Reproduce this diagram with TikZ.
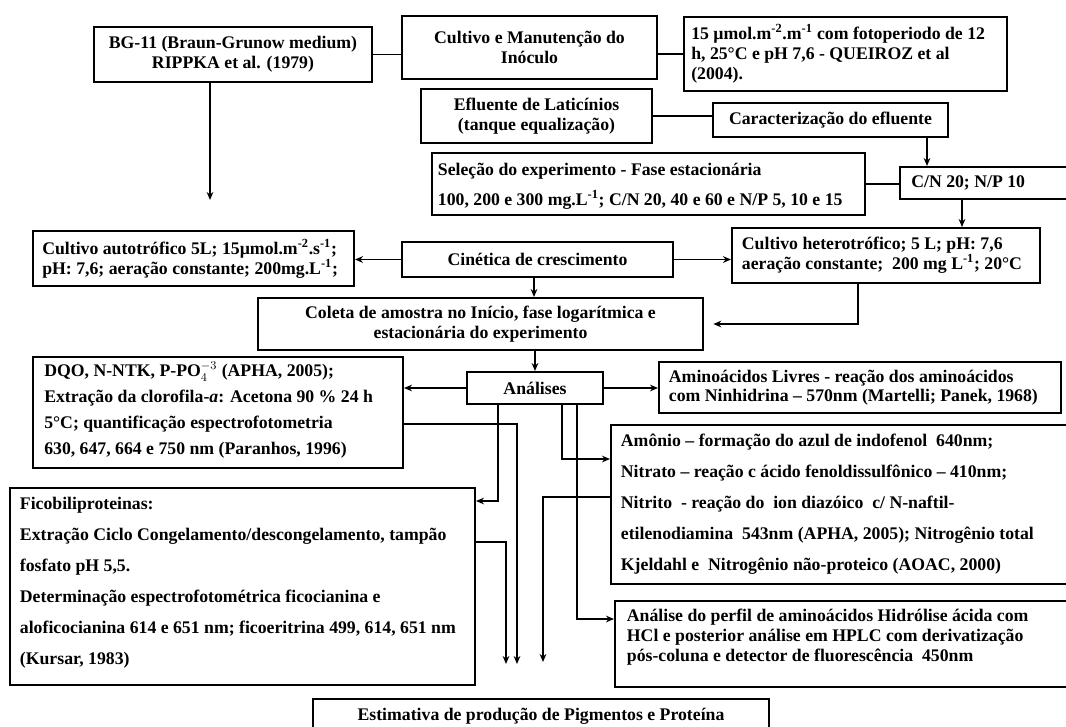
\documentclass[tikz,border=0pt]{standalone}
\usepackage{fontspec}
\setmainfont{Liberation Serif}
\usetikzlibrary{arrows.meta}
\newcommand\fs{\fontsize{13.3}{15}\selectfont\bfseries}
\newcommand\sps[1]{\textsuperscript{#1}}
\begin{document}
\begin{tikzpicture}[x=0.75pt,y=-0.75pt,
  box/.style={draw, line width=1.5pt, inner sep=0pt, align=center, font=\fs},
  txt/.style={inner sep=0pt, align=left, anchor=west, font=\fs},
  arr/.style={line width=1.3pt, -{Stealth[length=6pt,width=5pt]}},
  ln/.style={line width=1.3pt}]
\useasboundingbox (0,0) rectangle (1066,726);
\clip (0,0) rectangle (1066,726);
% top row
\node[box, minimum width=278*0.75pt, minimum height=55*0.75pt] (bg) at (233,54.5)
  {BG-11 (Braun-Grunow medium)\\RIPPKA et al. (1979)};
\node[box, minimum width=255*0.75pt, minimum height=63*0.75pt] (cult) at (529.5,47.5)
  {Cultivo e Manutenção do\\Inóculo};
\node[box, minimum width=323*0.75pt, minimum height=74*0.75pt] (mu) at (845.5,54) {};
\node[txt] (tmu) at ([xshift=6pt]mu.west)
  {15 µmol.m\sps{-2}.m\sps{-1} com fotoperiodo de 12\\h, 25°C e pH 7,6 - QUEIROZ et al\\(2004).};
\node[box, minimum width=231*0.75pt, minimum height=54*0.75pt] (eflu) at (536.5,116)
  {Efluente de Laticínios\\(tanque equalização)};
\node[box, minimum width=235*0.75pt, minimum height=34*0.75pt] (carac) at (830.5,120)
  {Caracterização do efluente};
\node[box, minimum width=433*0.75pt, minimum height=62*0.75pt] (sel) at (648.5,184) {};
\node[txt, font=\fontsize{13.3}{22.5}\selectfont\bfseries] (tsel) at ([xshift=5pt,yshift=-2pt]sel.west)
  {Seleção do experimento - Fase estacionária\\100, 200 e 300 mg.L\sps{-1}; C/N 20, 40 e 60 e N/P 5, 10 e 15};
\node[box, minimum width=175*0.75pt, minimum height=32*0.75pt] (cn) at (987.5,183) {};
\node[txt] (tcn) at ([xshift=9pt]cn.west) {C/N 20; N/P 10};
% growth
\node[box, minimum width=321*0.75pt, minimum height=55*0.75pt] (auto) at (193.5,258.5) {};
\node[txt] (tauto) at ([xshift=7.5pt]auto.west)
  {Cultivo autotrófico 5L; 15µmol.m\sps{-2}.s\sps{-1};\\pH: 7,6; aeração constante; 200mg.L\sps{-1};};
\node[box, minimum width=271*0.75pt, minimum height=35*0.75pt] (cin) at (537.5,259.5)
  {Cinética de crescimento};
\node[box, minimum width=308*0.75pt, minimum height=55*0.75pt] (het) at (886,255.5) {};
\node[txt] (thet) at ([xshift=8pt]het.west)
  {Cultivo heterotrófico; 5 L; pH: 7,6\\aeração constante;\ \ 200 mg L\sps{-1}; 20°C};
\node[box, minimum width=445*0.75pt, minimum height=52*0.75pt] (coleta) at (480.5,324)
  {Coleta de amostra no Início, fase logarítmica e\\estacionária do experimento};
% analyses
\node[box, minimum width=136*0.75pt, minimum height=32*0.75pt] (anal) at (535,388) {Análises};
\node[box, minimum width=402*0.75pt, minimum height=51*0.75pt] (amino) at (860,387.5) {};
\node[txt, font=\fontsize{13.3}{14}\selectfont\bfseries] (tamino) at ([xshift=8pt]amino.west)
  {Aminoácidos Livres - reação dos aminoácidos\\com Ninhidrina -- 570nm (Martelli; Panek, 1968)};
\node[box, minimum width=370*0.75pt, minimum height=111*0.75pt] (dqo) at (218,412.5) {};
\node[txt, font=\fontsize{13.3}{19.5}\selectfont\bfseries] (tdqo) at ([xshift=9pt,yshift=2pt]dqo.west)
  {DQO, N-NTK, P-PO$_4^{-3}$ (APHA, 2005);\\Extração da clorofila-\textit{a}: Acetona 90 \% 24 h\\5°C; quantificação espectrofotometria\\630, 647, 664 e 750 nm (Paranhos, 1996)};
\node[box, minimum width=465*0.75pt, minimum height=197*0.75pt] (fico) at (242.5,586.5) {};
\node[txt, font=\fontsize{13.3}{23.3}\selectfont\bfseries] (tfico) at ([xshift=8pt,yshift=3pt]fico.west)
  {Ficobiliproteinas:\\Extração Ciclo Congelamento/descongelamento, tampão\\fosfato pH 5,5.\\Determinação espectrofotométrica ficocianina e\\aloficocianina 614 e 651 nm; ficoeritrina 499, 614, 651 nm\\(Kursar, 1983)};
\node[box, minimum width=464*0.75pt, minimum height=159*0.75pt] (amon) at (843,504.5) {};
\node[txt, font=\fontsize{13.3}{23.3}\selectfont\bfseries] (tamon) at ([xshift=8pt]amon.west)
  {Amônio -- formação do azul de indofenol\ \ 640nm;\\Nitrato -- reação c ácido fenoldissulfônico -- 410nm;\\Nitrito\ \ - reação do\ \ ion diazóico\ \ c/ N-naftil-\\etilenodiamina\ \ 543nm (APHA, 2005); Nitrogênio total\\Kjeldahl e\ \ Nitrogênio não-proteico (AOAC, 2000)};
\node[box, minimum width=460*0.75pt, minimum height=86*0.75pt] (perf) at (845,644) {};
\node[txt] (tperf) at ([xshift=9.5pt,yshift=5pt]perf.west)
  {Análise do perfil de aminoácidos Hidrólise ácida com\\HCl e posterior análise em HPLC com derivatização\\pós-coluna e detector de fluorescência\ \ 450nm};
\node[box, minimum width=456*0.75pt, minimum height=34*0.75pt] (est) at (541,716)
  {Estimativa de produção de Pigmentos e Proteína};
% free ends
\coordinate (bgend) at (210,200);
\coordinate (x1) at (927,0);
\coordinate (x2) at (962,0);
\coordinate (x3) at (534,0);
\coordinate (x4) at (858,0);
\coordinate (k1) at (498,501);
\coordinate (k2) at (562,459);
\coordinate (k3) at (577,619);
\coordinate (d1) at (517,424);
\coordinate (f1) at (506,542);
\coordinate (a1) at (543,497);
\coordinate (e1) at (517,664);
\coordinate (e2) at (506,664);
\coordinate (e3) at (543,662);
% connectors
\draw[ln] (bg.east) -- (bg.east -| cult.west);
\draw[ln] (cult.east |- mu.west) -- (mu.west);
\draw[arr] (bg.south -| bgend) -- (bgend);
\draw[ln] (eflu.east) -- (eflu.east -| carac.west);
\draw[arr] (carac.south -| x1) -- (cn.north -| x1);
\draw[ln] (sel.east) -- (sel.east -| cn.west);
\draw[arr] (cn.south -| x2) -- (het.north -| x2);
\draw[arr] (cin.west) -- (cin.west -| auto.east);
\draw[arr] (cin.east) -- (cin.east -| het.west);
\draw[arr] (cin.south -| x3) -- (coleta.north -| x3);
\draw[arr, shorten >=7pt] (het.south -| x4) |- (coleta.east);
\draw[arr] (coleta.south -| anal.north) -- (anal.north);
\draw[arr] (anal.west) -- (anal.west -| dqo.east);
\draw[arr] (anal.east) -- (anal.east -| amino.west);
\draw[arr] (anal.south -| k1) |- (fico.east |- k1);
\draw[arr] (anal.south -| k2) |- (amon.west |- k2);
\draw[arr] (anal.south -| k3) |- (perf.west |- k3);
\draw[arr] (dqo.east |- d1) -- (d1) -- (e1);
\draw[arr] (fico.east |- f1) -- (f1) -- (e2);
\draw[arr] (amon.west |- a1) -- (a1) -- (e3);
\end{tikzpicture}
\end{document}
